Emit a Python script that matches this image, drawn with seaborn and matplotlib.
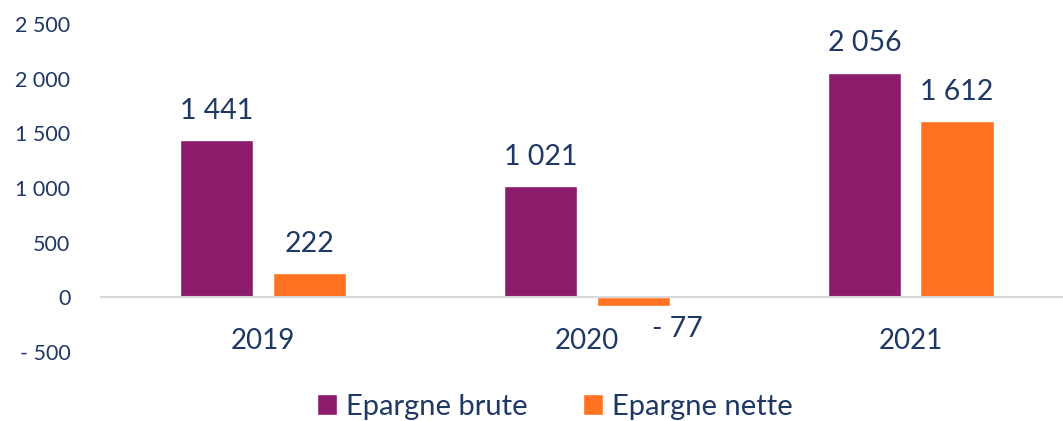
import matplotlib
matplotlib.use("Agg")
import matplotlib.pyplot as plt
import seaborn as sns
import pandas as pd

# Données (en milliers d'euros)
annees = ["2019", "2020", "2021"]
series = ["Epargne brute", "Epargne nette"]
epargne_brute = [1441, 1021, 2056]
epargne_nette = [222, -77, 1612]

couleurs = ["#8B1C6C", "#FF7221"]
texte = "#1F3864"

df = pd.DataFrame({
    "annee": annees * 2,
    "serie": [series[0]] * 3 + [series[1]] * 3,
    "valeur": epargne_brute + epargne_nette,
})

sns.set_style("white")
plt.rcParams["font.family"] = ["Lato", "DejaVu Sans"]


def fmt(v):
    s = f"{abs(int(v)):,}".replace(",", " ")
    return f"- {s}" if v < 0 else s


fig = plt.figure(figsize=(10.63, 4.21), dpi=100)
ax = fig.add_axes([0.095, 0.164, 0.905, 0.779])

sns.barplot(data=df, x="annee", y="valeur", hue="serie", palette=couleurs,
            saturation=1, width=0.571, gap=0.21, ax=ax, legend=True)

ax.set_ylim(-500, 2500)
ax.set_xlim(-0.5, 2.47)
ax.set_yticks(range(-500, 2501, 500))
ax.set_yticklabels([fmt(v) for v in range(-500, 2501, 500)])
ax.set_xlabel("")
ax.set_ylabel("")

for s in ["top", "right", "left"]:
    ax.spines[s].set_visible(False)
ax.spines["bottom"].set_position(("data", 0))
ax.spines["bottom"].set_color("#D9D9D9")
ax.spines["bottom"].set_linewidth(1.5)

ax.tick_params(axis="y", length=0, pad=22, labelsize=15.5, labelcolor=texte)
ax.tick_params(axis="x", length=0, pad=22, labelsize=20, labelcolor=texte)

# Étiquettes de données
for cont in ax.containers:
    for bar in cont:
        v = bar.get_height()
        x = bar.get_x() + bar.get_width() / 2
        if v >= 0:
            ax.annotate(fmt(v), (x, v), xytext=(0, 21), textcoords="offset points",
                        ha="center", va="center", fontsize=20.5, color=texte)
        else:
            ax.annotate(fmt(v), (x, v), xytext=(32, -17), textcoords="offset points",
                        ha="center", va="center", fontsize=20.5, color=texte)

leg = ax.legend(loc="center", bbox_to_anchor=(0.522, 0.034),
                bbox_transform=fig.transFigure, ncol=2, frameon=False,
                fontsize=21, handlelength=0.7, handleheight=0.7,
                columnspacing=1.9, handletextpad=0.3)
for t in leg.get_texts():
    t.set_color(texte)

fig.savefig("out.png", dpi=100)
